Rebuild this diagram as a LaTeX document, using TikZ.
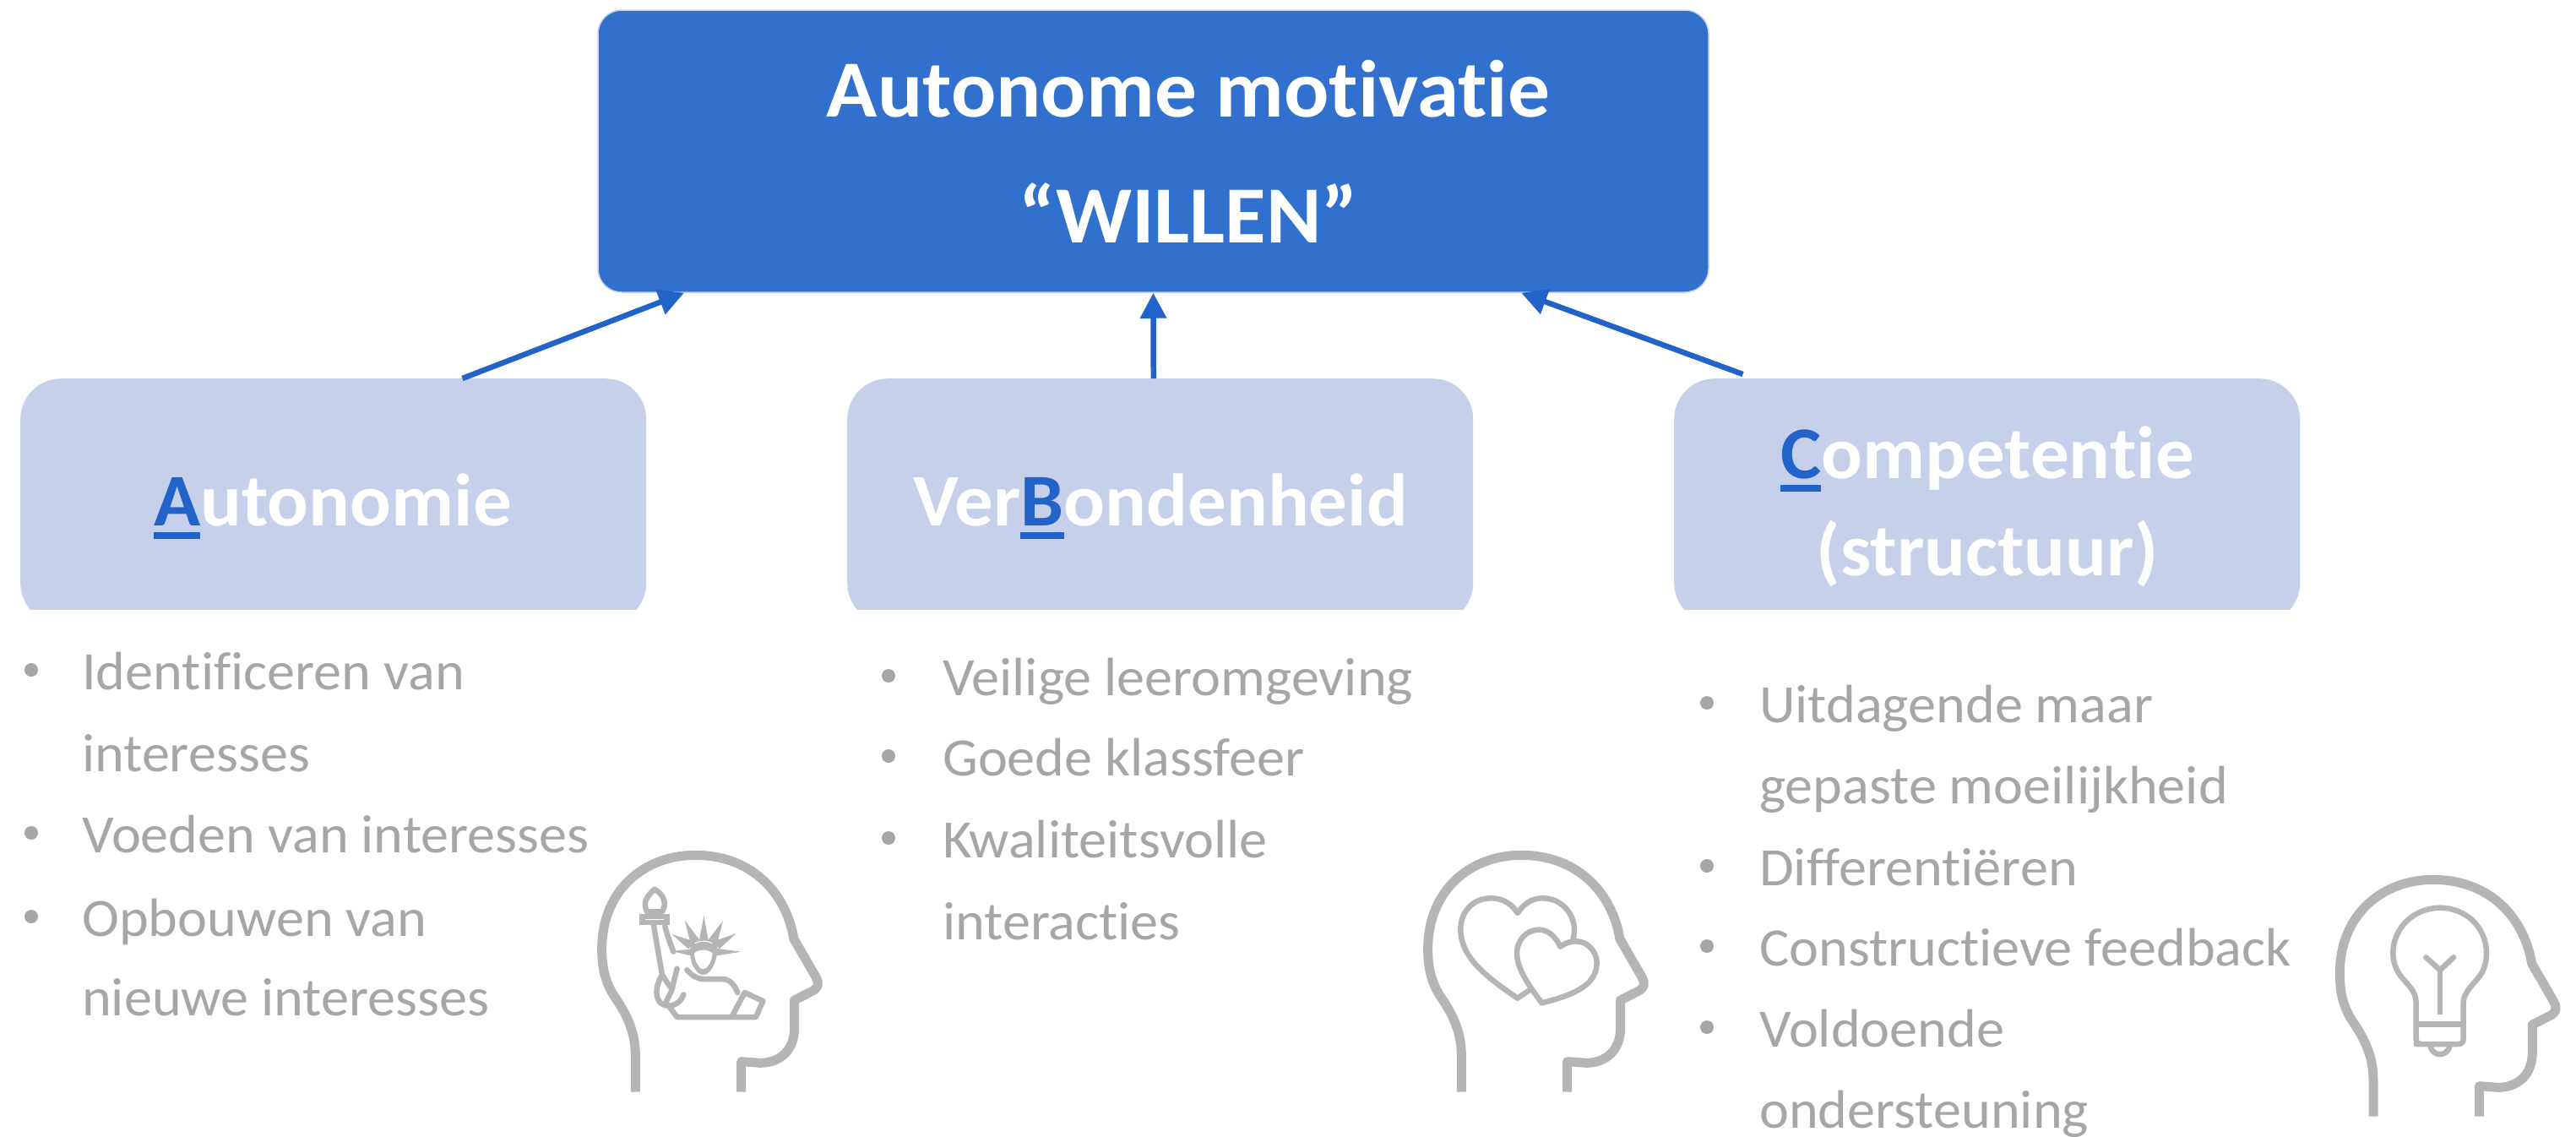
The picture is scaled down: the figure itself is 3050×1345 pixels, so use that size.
\documentclass[tikz,border=0pt]{standalone}
\usepackage{fontspec}
\setmainfont[Ligatures=NoCommon,FakeStretch=1.035]{Carlito}
\usetikzlibrary{arrows.meta,calc}
\definecolor{mainblue}{HTML}{3170CD}
\definecolor{lightblue}{HTML}{C6D0EB}
\definecolor{arrowblue}{HTML}{2163C9}
\definecolor{headgrey}{HTML}{B5B5B5}
\definecolor{textgrey}{HTML}{A6A6A6}
\newcommand\blet[1]{\leavevmode\setbox0\hbox{#1}\rlap{\textcolor{arrowblue}{\rule[-16pt]{\wd0}{8pt}}}\textcolor{arrowblue}{#1}}
\newcommand\headoutline{%
  \draw[iconhead] (217,998) -- (217,870) .. controls (217,790) and (190,730) .. (150,670)
    .. controls (115,620) and (98,570) .. (98,490)
    .. controls (98,280) and (250,157) .. (430,157)
    .. controls (620,157) and (750,280) .. (780,455)
    -- (858,590) .. controls (872,615) and (865,630) .. (845,640)
    -- (782,672) -- (782,770) .. controls (782,850) and (730,895) .. (660,895)
    -- (593,890) -- (593,998);}
\tikzset{
  iconhead/.style={draw=headgrey,line width=11pt,line join=round},
  iconthin/.style={draw=headgrey,line width=6.5pt,line join=round,line cap=round},
  mainbox/.style={rectangle,rounded corners=28pt,fill=mainblue,draw=lightblue,line width=1.5pt,minimum width=1315pt,minimum height=334pt,inner sep=0pt},
  subbox/.style={rectangle,rounded corners=48pt,fill=lightblue,minimum width=741pt,minimum height=290pt,inner sep=0pt,anchor=north west},
  titletext/.style={font=\fontsize{96}{96}\selectfont\bfseries,text=white,anchor=base,inner sep=0pt},
  subtext/.style={font=\fontsize{88}{88}\selectfont\bfseries,text=white,anchor=base,inner sep=0pt},
  itemtext/.style={font=\fontsize{64}{64}\selectfont,text=textgrey,anchor=base west,inner sep=0pt},
  itemdot/.style={circle,fill=textgrey,inner sep=0pt,minimum size=16pt},
  link/.style={draw=arrowblue,line width=6.5pt,-{Triangle[length=30pt,width=30pt]},shorten >=0pt}
}
\begin{document}
\begin{tikzpicture}[x=1pt,y=-1pt]
\useasboundingbox (0,0) rectangle (3050,1345);
\node[mainbox] (main) at (1365.5,179) {};
\begin{scope}
\clip (0,0) rectangle (3050,721);
\node[subbox] (boxa) at (24,448) {};
\node[subbox] (boxb) at (1003,448) {};
\node[subbox] (boxc) at (1982,448) {};
\end{scope}
\node[titletext] (t1) at (1407,138) {Autonome motivatie};
\node[titletext] (t2) at (1407,287) {“WILLEN”};
\node[subtext] (la) at (394,622) {\blet{A}utonomie};
\node[subtext] (lb) at (1374,622) {Ver\blet{B}ondenheid};
\node[subtext] (lc1) at (2353,566) {\blet{C}ompetentie};
\node[subtext] (lc2) at (2353,681) {(structuur)};
\draw[link] ($(boxa.north west)!0.706!(boxa.north east)$) -- ($(main.south west)!0.078!(main.south east)$);
\draw[link] ($(boxb.north west)!0.4893!(boxb.north east)$) -- ($(main.south west)!0.5!(main.south east)$);
\draw[link] ($(boxc.north west)!0.11!(boxc.north east)+(0,-5)$) -- ($(main.south west)!0.831!(main.south east)$);
% column A
\node[itemdot] (a0) at (37,793) {};
\node[itemtext] (a1) at (97,816) {Identificeren van};
\node[itemtext] (a2) at (97,913) {interesses};
\node[itemdot] (a3b) at (37,986) {};
\node[itemtext] (a3) at (97,1009) {Voeden van interesses};
\node[itemdot] (a4b) at (37,1085) {};
\node[itemtext] (a4) at (97,1108) {Opbouwen van};
\node[itemtext] (a5) at (97,1202) {nieuwe interesses};
% column B
\node[itemdot] (b1b) at (1052,800) {};
\node[itemtext] (b1) at (1116,823) {Veilige leeromgeving};
\node[itemdot] (b2b) at (1052,895) {};
\node[itemtext] (b2) at (1116,918) {Goede klassfeer};
\node[itemdot] (b3b) at (1052,992) {};
\node[itemtext] (b3) at (1116,1015) {Kwaliteitsvolle};
\node[itemtext] (b4) at (1116,1112) {interacties};
% column C
\node[itemdot] (c1b) at (2021,832) {};
\node[itemtext] (c1) at (2083,855) {Uitdagende maar};
\node[itemtext] (c2) at (2083,951) {gepaste moeilijkheid};
\node[itemdot] (c3b) at (2021,1025) {};
\node[itemtext] (c3) at (2083,1048) {Differentiëren};
\node[itemdot] (c4b) at (2021,1120) {};
\node[itemtext] (c4) at (2083,1143) {Constructieve feedback};
\node[itemdot] (c5b) at (2021,1216) {};
\node[itemtext] (c5) at (2083,1239) {Voldoende};
\node[itemtext] (c6) at (2083,1335) {ondersteuning};
% head 1: statue
\begin{scope}[shift={(680,960)},scale=1/3]
\headoutline
\draw[iconthin] (285,278) .. controls (250,310) and (245,330) .. (258,358) -- (312,358) .. controls (328,330) and (322,300) .. (285,278);
\fill[headgrey] (232,366) rectangle (338,406);
\draw[white,line width=1pt] (252,386) -- (318,386);
\draw[iconthin] (282,408) -- (312,582) .. controls (285,625) and (280,690) .. (335,692) .. controls (360,692) and (380,675) .. (388,652);
\draw[iconthin] (322,410) .. controls (335,460) and (345,480) .. (352,500);
\draw[iconthin] (312,582) -- (340,625);
\draw[iconthin] (365,560) -- (345,640) -- (325,680);
\draw[iconthin] (400,565) .. controls (420,585) and (435,597) .. (460,597) -- (530,597) .. controls (555,600) and (570,620) .. (580,645);
\draw[iconthin] (335,692) -- (365,732) -- (645,732) -- (670,675) -- (605,645) -- (560,730);
\fill[headgrey] (440,480) -- (460,372) -- (480,480) -- cycle;
\fill[headgrey] (415,480) -- (392,388) -- (450,465) -- cycle;
\fill[headgrey] (470,465) -- (528,390) -- (505,480) -- cycle;
\fill[headgrey] (405,490) -- (345,437) -- (430,465) -- cycle;
\fill[headgrey] (490,465) -- (575,435) -- (515,490) -- cycle;
\fill[headgrey] (420,490) -- (345,498) -- (420,515) -- cycle;
\fill[headgrey] (500,488) -- (592,500) -- (500,515) -- cycle;
\fill[headgrey] (412,482) .. controls (430,455) and (490,455) .. (508,482) -- (505,520) .. controls (495,560) and (475,582) .. (458,582) .. controls (440,582) and (420,560) .. (412,520) -- cycle;
\fill[white] (426,506) .. controls (440,490) and (476,490) .. (491,506) .. controls (488,535) and (472,562) .. (458,562) .. controls (444,562) and (428,535) .. (426,506) -- cycle;
\draw[white,line width=1pt] (428,470) .. controls (445,460) and (472,460) .. (490,470);
\end{scope}
% head 2: hearts
\begin{scope}[shift={(1660,980)},scale=1/3]
\begin{scope}[shift={(-6,-60)}]\headoutline\end{scope}
\draw[iconthin,line cap=butt] (455,575) -- (410,605) .. controls (300,530) and (208,460) .. (208,360) .. controls (208,300) and (250,250) .. (315,250) .. controls (340,250) and (380,255) .. (410,303) .. controls (440,260) and (470,250) .. (500,250) .. controls (570,250) and (612,310) .. (612,360) .. controls (612,375) and (610,385) .. (607,400);
\draw[iconthin] (562,422) .. controls (540,375) and (510,362) .. (487,362) .. controls (440,362) and (408,400) .. (408,445) .. controls (408,500) and (450,560) .. (497,622) .. controls (580,600) and (692,570) .. (692,480) .. controls (692,440) and (660,403) .. (618,403) .. controls (595,403) and (578,410) .. (562,422) -- cycle;
\end{scope}
% head 3: bulb
\begin{scope}[shift={(2740,1000)},scale=1/3]
\begin{scope}[shift={(-7,-33)}]\headoutline\end{scope}
\draw[iconthin] (362,637) -- (530,637);
\draw[iconthin] (362,708) -- (512,708) .. controls (525,708) and (530,700) .. (530,690) -- (530,560) .. controls (530,525) and (570,490) .. (585,470) .. controls (605,445) and (612,415) .. (612,385) .. controls (612,295) and (540,224) .. (447,224) .. controls (355,224) and (280,295) .. (280,385) .. controls (280,415) and (290,445) .. (310,470) .. controls (330,495) and (362,520) .. (362,560) -- (362,690) .. controls (362,700) and (368,708) .. (380,708);
\draw[iconthin] (412,712) .. controls (418,755) and (476,755) .. (482,712);
\draw[iconthin] (397,400) -- (447,445) -- (495,400);
\draw[iconthin,line cap=butt] (447,445) -- (447,603);
\end{scope}
\end{tikzpicture}
\end{document}
